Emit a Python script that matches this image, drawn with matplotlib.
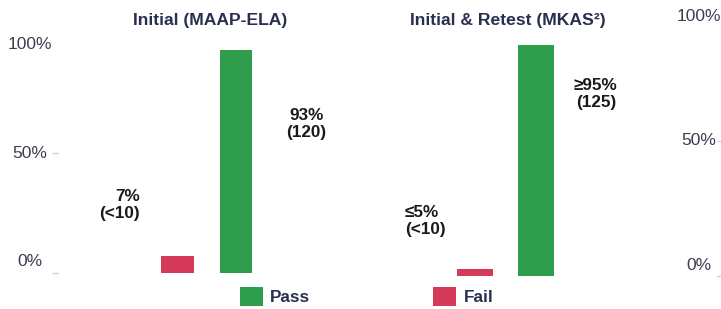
import matplotlib
matplotlib.use("Agg")
import matplotlib.pyplot as plt
from matplotlib.transforms import blended_transform_factory

# ---- data ----
categories = ["Fail", "Pass"]
initial_values = [7, 93]          # Initial (MAAP-ELA), percent
retest_values = [3, 95]           # Initial & Retest (MKAS²), percent
initial_labels = ["7%\n(<10)", "93%\n(120)"]
retest_labels = ["≤5%\n(<10)", "≥95%\n(125)"]
tick_values = [0, 50, 100]
tick_labels = ["0%", "50%", "100%"]
titles = ["Initial (MAAP-ELA)", "Initial & Retest (MKAS²)"]

plt.rcParams['font.family'] = ['Liberation Sans', 'DejaVu Sans']

W, H = 721, 309
fig = plt.figure(figsize=(W / 100, H / 100), dpi=100)

GREEN = "#2f9e4c"
RED = "#d53a5a"
TXT = "#2a2f4f"
colors = [RED, GREEN]

def px_axes(x0, x1, ytop, ybot):
    return fig.add_axes([x0 / W, (H - ybot) / H, (x1 - x0) / W, (ybot - ytop) / H])

axL = px_axes(58, 360, 33, 273)
axR = px_axes(360, 717, 33, 276)

xpos = [0, 1]
barsL = axL.bar(xpos, initial_values, width=0.56, color=colors)
barsR = axR.bar(xpos, retest_values, width=0.58, color=colors)

axL.set_xlim(-2.04, 3.12)
axR.set_xlim(-1.885, 3.965)
for ax in (axL, axR):
    ax.set_ylim(0, 100)
    for s in ax.spines.values():
        s.set_visible(False)
    ax.set_xticks([])
    ax.set_yticks(tick_values[:2])
    ax.set_yticklabels([])
    ax.tick_params(axis='y', length=4, color="#cfcfcf", width=1)
axR.yaxis.tick_right()
axR.set_yticks([0, 55.6])
axR.set_yticklabels([])

# tick labels (slightly shifted as in reference)
trL = blended_transform_factory(axL.transAxes, axL.transData)
for yv, lab in zip([4.6, 50, 95.4], tick_labels):
    axL.text(-0.093, yv, lab, transform=trL, ha='center', va='center',
             fontsize=12.5, color="#3b3d52")
trR = blended_transform_factory(axR.transAxes, axR.transData)
for yv, lab in zip([4.5, 55.6, 106.6], tick_labels):
    axR.text(0.95, yv, lab, transform=trR, ha='center', va='center',
             fontsize=12.5, color="#3b3d52", clip_on=False)

# value annotations
kw = dict(fontsize=12.3, fontweight='bold', color="#1a1a1a", linespacing=1.15, va='center')
axL.text(-0.64, 28.3, initial_labels[0], ha='right', multialignment='right', **kw)
axL.text(2.2, 62, initial_labels[1], ha='center', multialignment='center', **kw)
axR.text(-1.147, 22.6, retest_labels[0], ha='left', multialignment='left', **kw)
axR.text(1.98, 74.9, retest_labels[1], ha='center', multialignment='center', **kw)

# titles
fig.text(210 / W, 1 - 20 / H, titles[0], ha='center', va='center', fontsize=12.6,
         fontweight='bold', color=TXT)
fig.text(508 / W, 1 - 20 / H, titles[1], ha='center', va='center', fontsize=12.6,
         fontweight='bold', color=TXT)

# legend
leg = fig.legend([barsL[1], barsL[0]], ["Pass", "Fail"], ncol=2, frameon=False,
                 loc='upper left', bbox_to_anchor=(240 / W, 1 - 287 / H),
                 borderaxespad=0, borderpad=0, handlelength=1.32, handleheight=1.32,
                 handletextpad=0.45, columnspacing=7.2,
                 prop={'weight': 'bold', 'size': 12.3})
for t in leg.get_texts():
    t.set_color(TXT)

fig.savefig("out.png", dpi=100)
